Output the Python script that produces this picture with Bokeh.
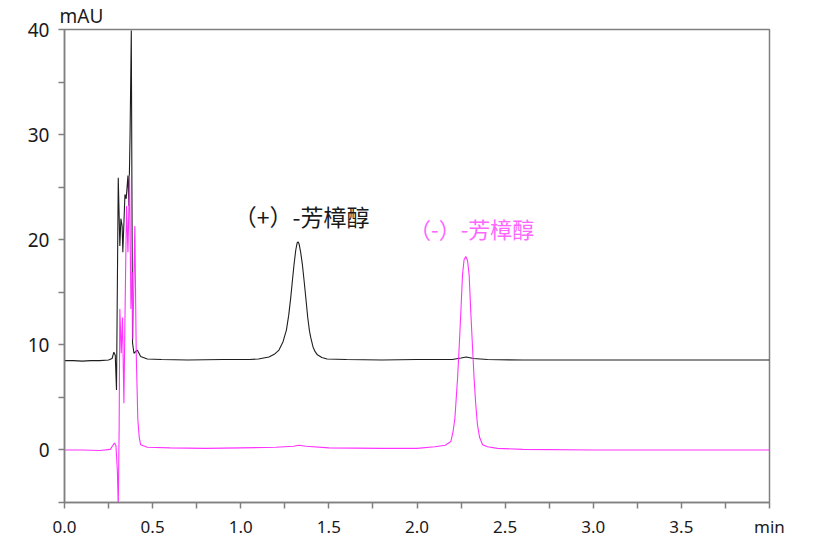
from bokeh.plotting import figure
from bokeh.models import FixedTicker, Label, Range1d, Title
from bokeh.embed import file_html
from bokeh.resources import INLINE

# (+)-linalool trace (black), time in min, signal in mAU
black_t = [0.00, 0.05, 0.10, 0.15, 0.20, 0.25, 0.27, 0.280, 0.288, 0.295, 0.305, 0.314,
           0.320, 0.327, 0.331, 0.343, 0.350, 0.360, 0.365, 0.372, 0.379, 0.386, 0.394,
           0.413, 0.432, 0.47, 0.55, 0.70, 0.90, 1.05, 1.10, 1.16, 1.19, 1.217, 1.24,
           1.259, 1.272, 1.283, 1.293, 1.302, 1.312, 1.320, 1.325, 1.331, 1.340, 1.350,
           1.360, 1.369, 1.380, 1.390, 1.397, 1.410, 1.422, 1.435, 1.46, 1.49, 1.60,
           1.80, 2.00, 2.20, 2.25, 2.28, 2.32, 2.40, 2.60, 3.00, 3.50, 4.00]
black_y = [8.50, 8.50, 8.45, 8.50, 8.50, 8.55, 8.70, 9.30, 9.00, 5.70, 25.9, 19.4,
           22.0, 21.3, 18.8, 24.3, 23.9, 26.1, 23.2, 30.0, 39.9, 10.2, 9.20,
           9.50, 8.90, 8.65, 8.60, 8.55, 8.60, 8.60, 8.65, 8.85, 9.10, 9.50, 10.3,
           11.4, 12.8, 14.4, 16.1, 17.6, 19.0, 19.7, 19.8, 19.6, 18.8, 17.6,
           16.0, 14.5, 12.6, 11.3, 10.7, 9.80, 9.35, 9.05, 8.80, 8.65, 8.60,
           8.55, 8.60, 8.60, 8.75, 8.85, 8.70, 8.60, 8.55, 8.55, 8.55, 8.55]

# (-)-linalool trace (magenta)
pink_t = [0.00, 0.10, 0.20, 0.26, 0.277, 0.284, 0.292, 0.300, 0.305, 0.310, 0.314,
          0.322, 0.329, 0.337, 0.345, 0.352, 0.360, 0.369, 0.377, 0.384, 0.388,
          0.399, 0.407, 0.416, 0.424, 0.432, 0.47, 0.60, 0.80, 1.00, 1.20, 1.30,
          1.33, 1.37, 1.50, 1.80, 2.00, 2.10, 2.16, 2.192, 2.205, 2.215, 2.230,
          2.240, 2.249, 2.258, 2.267, 2.277, 2.287, 2.296, 2.305, 2.315, 2.324,
          2.333, 2.343, 2.355, 2.372, 2.40, 2.457, 2.60, 3.00, 3.50, 4.00]
pink_y = [0.00, 0.00, -0.05, 0.05, 0.50, 0.65, 0.40, -2.0, -5.5, 2.0, 13.4,
          9.2, 12.6, 4.45, 15.0, 23.2, 18.8, 26.1, 13.4, 16.9, 10.5,
          21.3, 9.2, 2.9, 1.2, 0.5, 0.25, 0.20, 0.15, 0.20, 0.25, 0.35,
          0.45, 0.35, 0.20, 0.15, 0.15, 0.30, 0.45, 0.80, 1.8, 3.0, 6.8,
          10.0, 13.2, 16.6, 18.1, 18.4, 18.0, 16.6, 13.2, 9.8, 6.8,
          4.4, 2.4, 1.2, 0.5, 0.30, 0.15, 0.05, 0.00, 0.00, 0.00]

x_tick_values = [0.0, 0.25, 0.5, 0.75, 1.0, 1.25, 1.5, 1.75, 2.0, 2.25, 2.5, 2.75,
                 3.0, 3.25, 3.5, 3.75, 4.0]
x_tick_labels = ["0.0", "", "0.5", "", "1.0", "", "1.5", "", "2.0", "", "2.5", "",
                 "3.0", "", "3.5", "", "min"]
y_tick_values = [-5, 0, 5, 10, 15, 20, 25, 30, 35, 40]
y_tick_labels = ["", "0", "", "10", "", "20", "", "30", "", "40"]

peak_labels = ["（+）-芳樟醇", "（-）-芳樟醇"]
y_unit = "mAU"

AX = "#808080"
TXT = "#1a1a1a"

p = figure(width=823, height=540, output_backend="svg", toolbar_location=None,
           x_range=Range1d(0, 4.0), y_range=Range1d(-5, 40),
           min_border_left=64, min_border_right=54, min_border_top=29,
           min_border_bottom=38)
p.title = Title(text=y_unit, align="left", offset=-5, text_font="Noto Sans",
                text_font_size="19px", text_font_style="normal", text_color=TXT,
                standoff=1)
p.xgrid.visible = False
p.ygrid.visible = False
p.outline_line_color = AX
p.outline_line_width = 1.5
p.background_fill_color = "white"
p.border_fill_color = "white"

p.line(black_t, black_y, line_color="#1e1e1e", line_width=1.1)
p.line(pink_t, pink_y, line_color="#ff33ff", line_width=1.1)

p.xaxis.ticker = FixedTicker(ticks=x_tick_values)
p.xaxis.major_label_overrides = {v: l for v, l in zip(x_tick_values, x_tick_labels)}
p.yaxis.ticker = FixedTicker(ticks=y_tick_values)
p.yaxis.major_label_overrides = {v: l for v, l in zip(y_tick_values, y_tick_labels)}

for ax in (p.xaxis, p.yaxis):
    ax.axis_line_color = AX
    ax.axis_line_width = 1.5
    ax.major_tick_line_color = AX
    ax.major_tick_line_width = 1.5
    ax.major_tick_out = 6
    ax.major_tick_in = 0
    ax.minor_tick_line_color = None
    ax.major_label_text_font = "Noto Sans"
    ax.major_label_text_color = TXT
p.xaxis.major_label_text_font_size = "17px"
p.yaxis.major_label_text_font_size = "19px"
p.xaxis.major_label_standoff = 6
p.yaxis.major_label_standoff = 9

p.add_layout(Label(x=0.96, y=22.3, text=peak_labels[0], text_font="Noto Sans CJK SC",
                   text_font_size="23px", text_color=TXT, text_baseline="middle",
                   text_align="left"))
p.add_layout(Label(x=1.955, y=21.1, text=peak_labels[1], text_font="Noto Sans CJK SC",
                   text_font_size="22px", text_color="#ff66ff", text_baseline="middle",
                   text_align="left"))

open("out.html", "w").write(file_html(p, INLINE))
